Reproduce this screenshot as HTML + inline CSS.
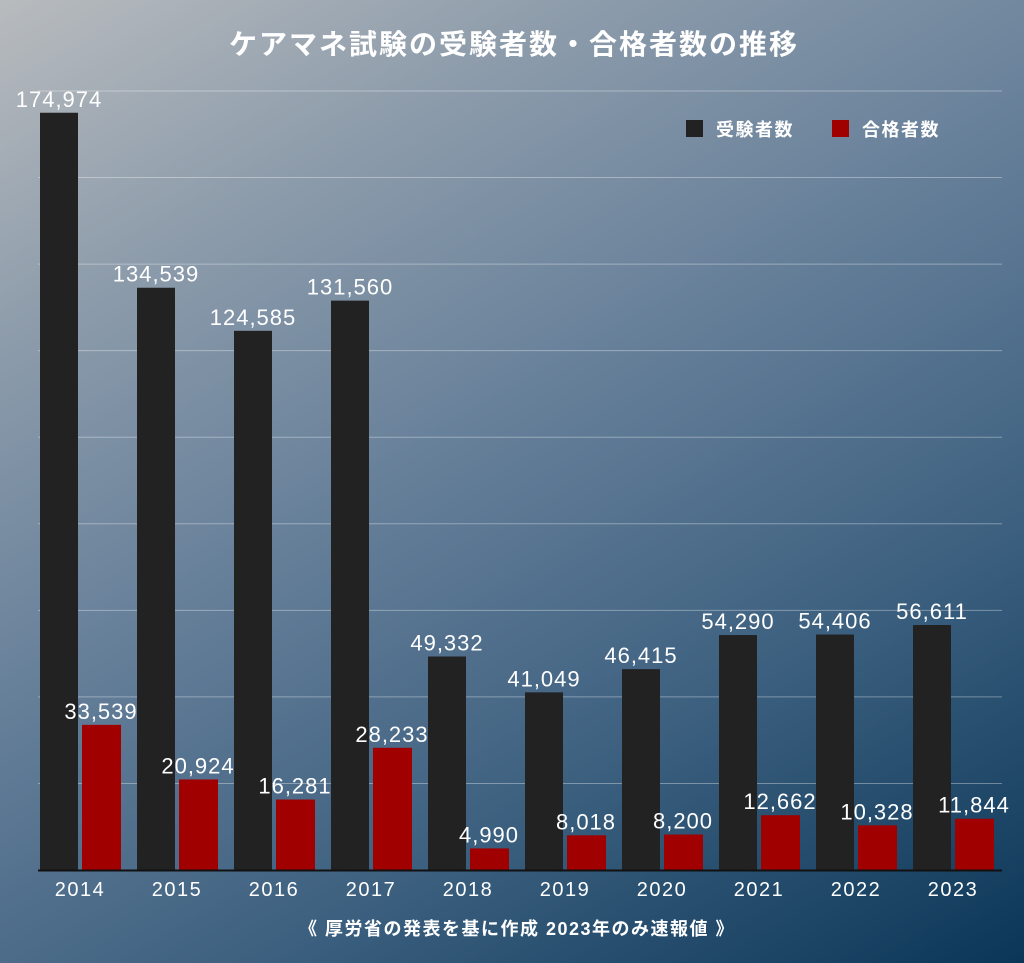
<!DOCTYPE html>
<html><head><meta charset="utf-8"><style>
body{margin:0;width:1024px;height:963px;overflow:hidden;font-family:"Liberation Sans","Noto Sans CJK JP",sans-serif;}
#bg{position:absolute;left:0;top:0;width:1024px;height:963px;background:linear-gradient(150deg,#b8bbbe 0%,#8d9cab 22%,#67809a 45%,#3f6281 70%,#0b3658 100%);}
svg{position:absolute;left:0;top:0}
text{font-family:"Liberation Sans","Noto Sans CJK JP",sans-serif;fill:#fff}
</style></head><body>
<div id="bg"></div>
<svg id="chart" width="1024" height="963">
<text x="514" y="54" text-anchor="middle" font-size="28" font-weight="bold" letter-spacing="2">ケアマネ試験の受験者数・合格者数の推移</text>
<g>
<rect x="686" y="120" width="17" height="17" fill="#222"/>
<text x="716" y="136" font-size="18" font-weight="bold" letter-spacing="1.5">受験者数</text>
<rect x="832" y="120" width="17" height="17" fill="#a00000"/>
<text x="862" y="136" font-size="18" font-weight="bold" letter-spacing="1.5">合格者数</text>
</g>
<text x="517" y="935" text-anchor="middle" font-size="18" font-weight="bold" letter-spacing="1.5">《 厚労省の発表を基に作成 2023年のみ速報値 》</text>
</svg>
<script>
const years=["2014","2015","2016","2017","2018","2019","2020","2021","2022","2023"];
const examinees=[174974,134539,124585,131560,49332,41049,46415,54290,54406,56611];
const passers=[33539,20924,16281,28233,4990,8018,8200,12662,10328,11844];
const gridTicks=[0,20000,40000,60000,80000,100000,120000,140000,160000,180000];
const NS="http://www.w3.org/2000/svg";
const svg=document.getElementById('chart');
const base=870,top0=91,maxV=180000;
function y(v){return base-(v/maxV)*(base-top0);}
function xg(i){return 40+97*i;}
function mk(tag,attrs,txt){const e=document.createElementNS(NS,tag);for(const k in attrs)e.setAttribute(k,attrs[k]);if(txt!==undefined)e.textContent=txt;svg.appendChild(e);return e;}
gridTicks.forEach((t,i)=>{if(t===0)return;
 const l=mk('line',{x1:38,x2:1002,y1:y(t),y2:y(t),stroke:'rgba(255,255,255,0.35)','stroke-width':1});
 
 
});
years.forEach((yr,i)=>{
 const x=xg(i);
 const b=mk('rect',{x:x,y:y(examinees[i]),width:38,height:base-y(examinees[i]),fill:'#222'});
 
 
 const r=mk('rect',{x:x+42,y:y(passers[i]),width:39,height:base-y(passers[i]),fill:'#a00000'});
 
 
 const tb=mk('text',{x:x+19,y:y(examinees[i])-6,'text-anchor':'middle','font-size':22,'letter-spacing':1},examinees[i].toLocaleString('en-US'));
 
 
 const tr=mk('text',{x:x+61,y:y(passers[i])-6,'text-anchor':'middle','font-size':22,'letter-spacing':1},passers[i].toLocaleString('en-US'));
 
 
 const tx=mk('text',{x:x+40,y:896,'text-anchor':'middle','font-size':20,'letter-spacing':1.5},yr);
 
 
});
const ax=mk('line',{x1:38,x2:1002,y1:base+0.5,y2:base+0.5,stroke:'#111','stroke-width':2});


</script>
</body></html>
